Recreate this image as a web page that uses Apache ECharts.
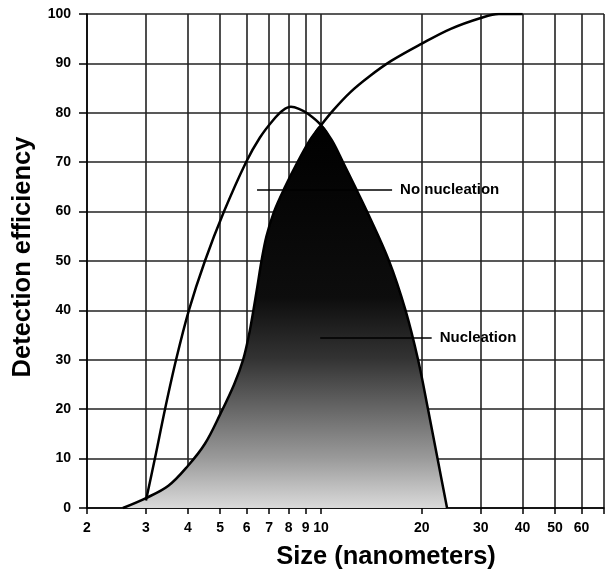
<!DOCTYPE html>
<html>
<head>
<meta charset="utf-8">
<script src="https://cdn.jsdelivr.net/npm/echarts@6/dist/echarts.min.js"></script>
<style>
    html, body { margin: 0; padding: 0; background: #fff; }
    #chart { width: 606px; height: 572px; }
</style>
</head>
<body>
<div id="chart"></div>
<script>
// 刻度
var xTicks = [2, 3, 4, 5, 6, 7, 8, 9, 10, 20, 30, 40, 50, 60, 70];
var xLabels = [2, 3, 4, 5, 6, 7, 8, 9, 10, 20, 30, 40, 50, 60];

// 有峰值的曲线 (size, efficiency)
var peakCurve = [
    [3, 1.5], [3.19, 10], [3.42, 20], [3.69, 30], [4.03, 40], [4.5, 50], [5.13, 60],
    [5.97, 70], [6.57, 75], [7.19, 78.5], [7.7, 80.5], [8.13, 81.2], [8.59, 80.8],
    [9.14, 79.8], [10, 77.5], [10.78, 74.4], [11.63, 70], [12.64, 65], [13.72, 60],
    [15.96, 50], [17.88, 40], [19.49, 30], [20.87, 20], [22.28, 10], [23.79, 0]
];

// 一直上升到100的曲线
var riseCurve = [
    [2.56, 0], [3, 2], [3.5, 4.5], [4, 8.5], [4.5, 13], [5, 19], [5.5, 25],
    [5.85, 30], [6.09, 35], [6.28, 40], [6.46, 45], [6.64, 50], [6.87, 55],
    [7.24, 60], [7.81, 65], [8.51, 70], [9.27, 74.5], [10, 77.5], [10.9, 80.6],
    [12.2, 84.1], [13.9, 87.3], [16.2, 90.5], [20, 94], [24.4, 97], [30, 99.2],
    [34, 100], [40, 100]
];

// 阴影区域的边界
var shadedEdge = [
    [2.56, 0], [3, 2], [3.5, 4.5], [4, 8.5], [4.5, 13], [5, 19], [5.5, 25],
    [5.85, 30], [6.09, 35], [6.28, 40], [6.46, 45], [6.64, 50], [6.87, 55],
    [7.24, 60], [7.81, 65], [8.51, 70], [9.27, 74.5], [10, 77.5], [10.78, 74.4],
    [11.63, 70], [12.64, 65], [13.72, 60], [15.96, 50], [17.88, 40], [19.49, 30],
    [20.87, 20], [22.28, 10], [23.79, 0]
];

// 标注
var noteNoNucleation = { text: 'No nucleation', from: [6.44, 64.5], to: [16.3, 64.5] };
var noteNucleation = { text: 'Nucleation', from: [9.94, 34.5], to: [21.4, 34.5] };

var font = "'Liberation Sans', Arial, sans-serif";
var gridColor = '#222';

function noteLine(note) {
    return [
        { coord: note.from },
        { coord: note.to, label: { formatter: note.text } }
    ];
}

var myChart = echarts.init(document.getElementById('chart'));

var option = {
    animation: false,
    backgroundColor: '#fff',
    grid: { left: 87, right: 2, top: 14, bottom: 64 },
    xAxis: {
        type: 'log',
        logBase: 10,
        min: 2,
        max: 70,
        axisLine: { lineStyle: { color: '#000', width: 1.5 } },
        axisTick: { customValues: xTicks, length: 6, lineStyle: { color: '#000', width: 1.5 } },
        axisLabel: { customValues: xLabels, color: '#000', fontSize: 14, fontWeight: 'bold', fontFamily: font, margin: 13 },
        splitLine: { show: true, lineStyle: { color: gridColor, width: 1.6 } },
        minorTick: { show: false },
        minorSplitLine: { show: false }
    },
    yAxis: {
        type: 'value',
        min: 0,
        max: 100,
        interval: 10,
        axisLine: { show: true, lineStyle: { color: '#000', width: 1.5 } },
        axisTick: { show: true, length: 8, lineStyle: { color: '#000', width: 1.5 } },
        axisLabel: { color: '#000', fontSize: 14, fontWeight: 'bold', fontFamily: font, margin: 16 },
        splitLine: { show: true, lineStyle: { color: gridColor, width: 1.6 } }
    },
    graphic: [
        {
            type: 'text',
            x: 386, y: 557,
            style: { text: 'Size (nanometers)', fill: '#000', font: 'bold 25.5px ' + font, textAlign: 'center', textVerticalAlign: 'middle' }
        },
        {
            type: 'text',
            x: 23, y: 257,
            rotation: Math.PI / 2,
            style: { text: 'Detection efficiency', fill: '#000', font: 'bold 25.5px ' + font, textAlign: 'center', textVerticalAlign: 'middle' }
        }
    ],
    series: [
        {
            type: 'line',
            data: shadedEdge,
            smooth: 0.35,
            showSymbol: false,
            lineStyle: { width: 0 },
            z: 1,
            areaStyle: {
                opacity: 1,
                color: new echarts.graphic.LinearGradient(0, 0, 0, 1, [
                    { offset: 0, color: '#000' },
                    { offset: 0.45, color: '#0d0d0d' },
                    { offset: 0.61, color: '#333' },
                    { offset: 0.74, color: '#666' },
                    { offset: 0.87, color: '#9a9a9a' },
                    { offset: 1, color: '#dadada' }
                ])
            },
            markLine: {
                silent: true,
                symbol: ['none', 'none'],
                lineStyle: { color: '#000', width: 1.5, type: 'solid' },
                label: { position: 'end', distance: 8, color: '#000', fontSize: 15, fontWeight: 'bold', fontFamily: font },
                data: [noteLine(noteNoNucleation), noteLine(noteNucleation)]
            }
        },
        {
            type: 'line',
            data: peakCurve,
            smooth: 0.35,
            showSymbol: false,
            z: 3,
            lineStyle: { color: '#000', width: 2.5 }
        },
        {
            type: 'line',
            data: riseCurve,
            smooth: 0.35,
            showSymbol: false,
            z: 3,
            lineStyle: { color: '#000', width: 2.5 }
        }
    ]
};

myChart.setOption(option);
</script>
</body>
</html>
